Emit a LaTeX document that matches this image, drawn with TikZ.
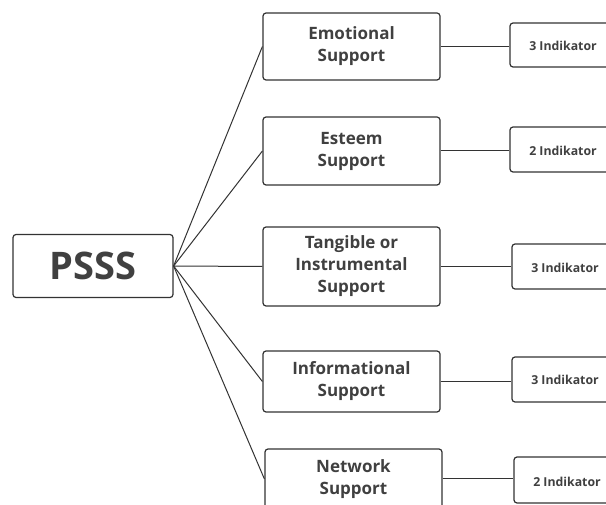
\documentclass[tikz,border=0pt]{standalone}
\usepackage{fontspec}
\setmainfont{Open Sans}
\definecolor{txt}{HTML}{404040}
\definecolor{ln}{HTML}{333333}
\begin{document}
\begin{tikzpicture}[x=1pt,y=-1pt,
  box/.style={draw=ln,line width=1.2pt,rounded corners=3pt,fill=white,align=center,
    text=txt,font=\fontsize{17}{22}\selectfont\bfseries,inner sep=0pt},
  ind/.style={draw=ln,line width=1.2pt,rounded corners=3pt,fill=white,
    inner sep=0pt,minimum width=110pt,minimum height=45pt},
  lab/.style={text=txt,font=\fontsize{12.3}{14}\selectfont\bfseries,inner sep=0pt},
  conn/.style={draw=ln,line width=1pt}]
\useasboundingbox (0,0) rectangle (606,505);
\clip (0,0) rectangle (606,505);
\fill[white] (0,0) rectangle (606,505);
\node[box,minimum width=160pt,minimum height=63pt,font=\fontsize{38}{44}\selectfont\bfseries] (p) at (93,266) {PSSS};
\node[box,minimum width=177pt,minimum height=67pt] (b1) at (351.5,46.5) {Emotional\\Support};
\node[box,minimum width=177pt,minimum height=68pt] (b2) at (351.5,151) {Esteem\\Support};
\node[box,minimum width=177pt,minimum height=79pt] (b3) at (351.5,266.5) {Tangible or\\Instrumental\\Support};
\node[box,minimum width=177pt,minimum height=61pt] (b4) at (351.5,381.5) {Informational\\Support};
\node[box,minimum width=177pt,minimum height=60pt] (b5) at (353.5,479) {Network\\Support};
\node[ind,minimum height=44pt] (i1) at (565,45) {};
\node[ind] (i2) at (565,149.5) {};
\node[ind] (i3) at (567,266.5) {};
\node[ind] (i4) at (567,379.5) {};
\node[ind,minimum height=46pt] (i5) at (569,480) {};
\node[lab] (t1) at (563,46) {3 Indikator};
\node[lab] (t2) at (563,151) {2 Indikator};
\node[lab] (t3) at (565,267.5) {3 Indikator};
\node[lab] (t4) at (565,380) {3 Indikator};
\node[lab] (t5) at (567,481.5) {2 Indikator};
\foreach \b in {b1,b2,b3,b4,b5} \draw[conn] (p.east) -- (\b.west);
\draw[conn] (b1.east) -- (i1.west |- b1.east);
\draw[conn] (b2.east) -- (i2.west |- b2.east);
\draw[conn] (b3.east) -- (i3.west |- b3.east);
\draw[conn] (b4.east) -- (i4.west |- b4.east);
\draw[conn] (b5.east) -- (i5.west |- b5.east);
\end{tikzpicture}
\end{document}
